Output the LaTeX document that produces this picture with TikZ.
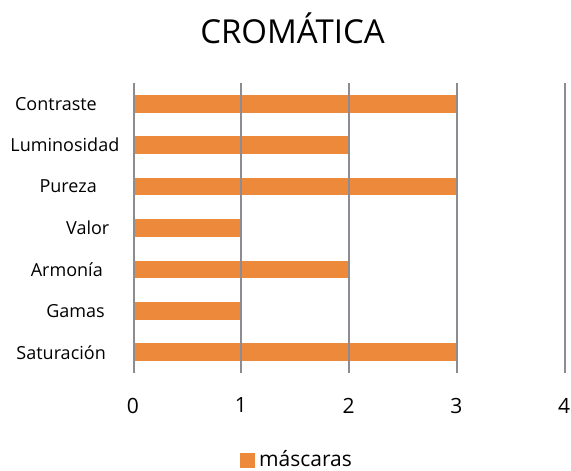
\documentclass[tikz,border=0pt]{standalone}
\usepackage{fontspec}
\setmainfont{Open Sans}
\definecolor{barorange}{RGB}{237,137,58}
\definecolor{gridgray}{RGB}{140,140,146}
\begin{document}
\begin{tikzpicture}[x=1pt,y=-1pt,
  catlabel/.style={anchor=east,inner sep=0pt,font=\fontsize{18}{20}\selectfont},
  ticklabel/.style={anchor=center,inner sep=0pt,font=\fontsize{21}{24}\selectfont},
  bar/.style={fill=barorange,draw=none},
  gridline/.style={draw=gridgray,line width=2pt}]
\useasboundingbox (0,0) rectangle (571,471);
\def\xo{133.5}
\def\st{107.8}
% title
\node[inner sep=0pt,font=\fontsize{33}{36}\selectfont] (title) at (292.5,28) {CROMÁTICA};
% bars
\foreach \v [count=\i from 0] in {3,2,3,1,2,1,3}{
  \pgfmathsetmacro{\yc}{83+41.43*(\i+0.5)}
  \fill[bar] (\xo,\yc-8.8) rectangle (\xo+\v*\st,\yc+8.8);
}
% grid lines
\foreach \k in {0,...,4}{
  \draw[gridline] (\xo+\k*\st,83) -- (\xo+\k*\st,373);
}
% category labels
\node[catlabel] (c1) at (97,103.7) {Contraste};
\node[catlabel] (c2) at (119.5,145.1) {Luminosidad};
\node[catlabel] (c3) at (97,186.5) {Pureza};
\node[catlabel] (c4) at (109.5,228) {Valor};
\node[catlabel] (c5) at (103,269.4) {Armonía};
\node[catlabel] (c6) at (105,310.8) {Gamas};
\node[catlabel] (c7) at (106,352.3) {Saturación};
% tick labels
\foreach \k in {0,...,4}{
  \node[ticklabel] (t\k) at (\xo+\k*\st-0.5,405.5) {\k};
}
% legend
\fill[bar] (240,453) rectangle (255,468);
\node[anchor=west,inner sep=0pt,font=\fontsize{21}{24}\selectfont] (leg) at (259,459) {máscaras};
\end{tikzpicture}
\end{document}
